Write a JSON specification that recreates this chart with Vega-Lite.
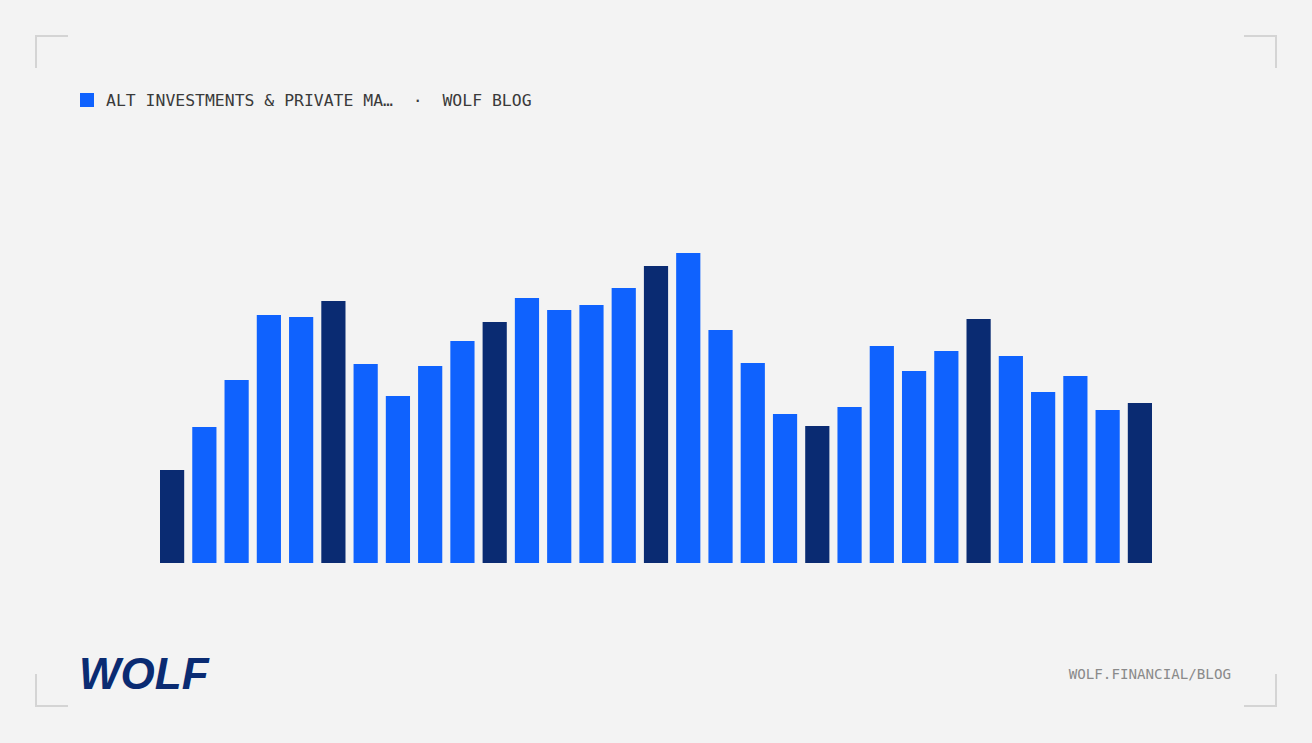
{
  "$schema": "https://vega.github.io/schema/vega-lite/v6.json",
  "autosize": "none",
  "width": 992,
  "height": 310,
  "padding": {"left": 160, "top": 253, "right": 160, "bottom": 180},
  "background": "#f3f3f3",
  "config": {"view": {"stroke": null}},
  "layer": [
    {
      "data": {"values": [
        {"i": 1, "v": 93, "group": "highlight"},
        {"i": 2, "v": 136, "group": "normal"},
        {"i": 3, "v": 183, "group": "normal"},
        {"i": 4, "v": 248, "group": "normal"},
        {"i": 5, "v": 246, "group": "normal"},
        {"i": 6, "v": 262, "group": "highlight"},
        {"i": 7, "v": 199, "group": "normal"},
        {"i": 8, "v": 167, "group": "normal"},
        {"i": 9, "v": 197, "group": "normal"},
        {"i": 10, "v": 222, "group": "normal"},
        {"i": 11, "v": 241, "group": "highlight"},
        {"i": 12, "v": 265, "group": "normal"},
        {"i": 13, "v": 253, "group": "normal"},
        {"i": 14, "v": 258, "group": "normal"},
        {"i": 15, "v": 275, "group": "normal"},
        {"i": 16, "v": 297, "group": "highlight"},
        {"i": 17, "v": 310, "group": "normal"},
        {"i": 18, "v": 233, "group": "normal"},
        {"i": 19, "v": 200, "group": "normal"},
        {"i": 20, "v": 149, "group": "normal"},
        {"i": 21, "v": 137, "group": "highlight"},
        {"i": 22, "v": 156, "group": "normal"},
        {"i": 23, "v": 217, "group": "normal"},
        {"i": 24, "v": 192, "group": "normal"},
        {"i": 25, "v": 212, "group": "normal"},
        {"i": 26, "v": 244, "group": "highlight"},
        {"i": 27, "v": 207, "group": "normal"},
        {"i": 28, "v": 171, "group": "normal"},
        {"i": 29, "v": 187, "group": "normal"},
        {"i": 30, "v": 153, "group": "normal"},
        {"i": 31, "v": 160, "group": "highlight"}
      ]},
      "mark": {"type": "bar"},
      "encoding": {
        "x": {"field": "i", "type": "ordinal", "axis": null, "scale": {"paddingInner": 0.25, "paddingOuter": 0}},
        "y": {"field": "v", "type": "quantitative", "axis": null, "scale": {"domain": [0, 310], "nice": false, "zero": true}},
        "color": {"field": "group", "type": "nominal", "legend": null, "scale": {"domain": ["normal", "highlight"], "range": ["#0f62fe", "#0a2b72"]}}
      }
    },
    {
      "data": {"values": [{}]},
      "mark": {"type": "rect", "color": "#0f62fe"},
      "encoding": {"x": {"value": -80}, "x2": {"value": -66}, "y": {"value": -160}, "y2": {"value": -146}}
    },
    {
      "data": {"values": [{"t": "ALT INVESTMENTS & PRIVATE MA…\u00a0\u00a0·\u00a0\u00a0WOLF BLOG"}]},
      "mark": {"type": "text", "align": "left", "baseline": "alphabetic", "font": "DejaVu Sans Mono", "fontSize": 16.45, "color": "#3a3a3a"},
      "encoding": {"text": {"field": "t"}, "x": {"value": -54}, "y": {"value": -147}}
    },
    {
      "data": {"values": [{"t": "WOLF"}]},
      "mark": {"type": "text", "align": "left", "baseline": "alphabetic", "font": "Liberation Sans", "fontSize": 44, "fontWeight": "bold", "fontStyle": "italic", "color": "#0a2b72"},
      "encoding": {"text": {"field": "t"}, "x": {"value": -81}, "y": {"value": 436}}
    },
    {
      "data": {"values": [{"t": "WOLF.FINANCIAL/BLOG"}]},
      "mark": {"type": "text", "align": "right", "baseline": "alphabetic", "font": "DejaVu Sans Mono", "fontSize": 14.2, "color": "#8a8a8a"},
      "encoding": {"text": {"field": "t"}, "x": {"value": 1071}, "y": {"value": 426}}
    },
    {"data": {"values": [{}]}, "mark": {"type": "rect", "color": "#d4d4d4"}, "encoding": {"x": {"value": -125}, "x2": {"value": -92}, "y": {"value": -218}, "y2": {"value": -216}}},
    {"data": {"values": [{}]}, "mark": {"type": "rect", "color": "#d4d4d4"}, "encoding": {"x": {"value": -125}, "x2": {"value": -123}, "y": {"value": -218}, "y2": {"value": -185}}},
    {"data": {"values": [{}]}, "mark": {"type": "rect", "color": "#d4d4d4"}, "encoding": {"x": {"value": 1084}, "x2": {"value": 1117}, "y": {"value": -218}, "y2": {"value": -216}}},
    {"data": {"values": [{}]}, "mark": {"type": "rect", "color": "#d4d4d4"}, "encoding": {"x": {"value": 1115}, "x2": {"value": 1117}, "y": {"value": -218}, "y2": {"value": -185}}},
    {"data": {"values": [{}]}, "mark": {"type": "rect", "color": "#d4d4d4"}, "encoding": {"x": {"value": -125}, "x2": {"value": -92}, "y": {"value": 452}, "y2": {"value": 454}}},
    {"data": {"values": [{}]}, "mark": {"type": "rect", "color": "#d4d4d4"}, "encoding": {"x": {"value": -125}, "x2": {"value": -123}, "y": {"value": 421}, "y2": {"value": 454}}},
    {"data": {"values": [{}]}, "mark": {"type": "rect", "color": "#d4d4d4"}, "encoding": {"x": {"value": 1084}, "x2": {"value": 1117}, "y": {"value": 452}, "y2": {"value": 454}}},
    {"data": {"values": [{}]}, "mark": {"type": "rect", "color": "#d4d4d4"}, "encoding": {"x": {"value": 1115}, "x2": {"value": 1117}, "y": {"value": 421}, "y2": {"value": 454}}}
  ]
}
